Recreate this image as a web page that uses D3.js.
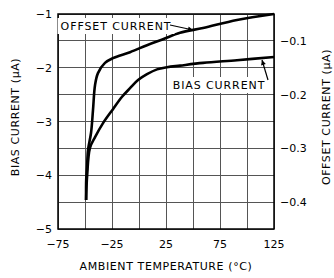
<!DOCTYPE html>
<html><head><meta charset="utf-8">
<script src="https://cdn.jsdelivr.net/npm/d3@7"></script>
<style>body{margin:0;background:#fff}svg{display:block}text{font-family:"DejaVu Sans",sans-serif;fill:#000}</style>
</head><body><svg id="c" width="334" height="278"></svg>
<script>
const xTicks = [-75, -25, 25, 75, 125];
const yLeftTicks = [-5, -4, -3, -2, -1];
const yRightTicks = [-0.4, -0.3, -0.2, -0.1];
// Bias current (left axis, µA) vs temperature (°C)
const biasTemp = [-49, -48, -45.4, -40.7, -33.3, -24.1, -15.7, -8.3, -0.9, 7.4, 16.7, 25.9, 38, 59.3, 90.7, 125];
const biasVal  = [-4.46, -4.0, -3.49, -3.29, -3.03, -2.77, -2.54, -2.38, -2.23, -2.12, -2.03, -1.99, -1.96, -1.91, -1.86, -1.80];
// Offset current (right axis, µA) vs temperature (°C)
const offTemp = [-49, -48.9, -48.1, -47.2, -44.4, -42.6, -40.7, -38.0, -31.5, -24.1, -8.3, 7.4, 22.2, 38.0, 59.3, 90.7, 125];
const offVal  = [-0.396, -0.359, -0.335, -0.303, -0.271, -0.229, -0.182, -0.160, -0.141, -0.132, -0.121, -0.108, -0.097, -0.085, -0.076, -0.061, -0.050];

const svg = d3.select("#c");
const x = d3.scaleLinear().domain([-75, 125]).range([58, 274]);
const yL = d3.scaleLinear().domain([-5, -1]).range([229, 14]);
const yR = d3.scaleLinear().domain([-0.45, -0.05]).range([229, 14]);
const fmt = v => String(v).replace("-", "\u2212");

const g = svg.append("g");
// grid
g.selectAll(".vg").data(d3.range(-75, 126, 25)).join("line")
  .attr("x1", d => x(d)).attr("x2", d => x(d)).attr("y1", 14).attr("y2", 229)
  .attr("stroke", "#555").attr("stroke-width", 1).attr("shape-rendering", "crispEdges");
g.selectAll(".hg").data(d3.range(-5, -0.99, 0.5)).join("line")
  .attr("y1", d => yL(d)).attr("y2", d => yL(d)).attr("x1", 58).attr("x2", 274)
  .attr("stroke", "#555").attr("stroke-width", 1).attr("shape-rendering", "crispEdges");
// frame
g.append("rect").attr("x", 58).attr("y", 14).attr("width", 216).attr("height", 215)
  .attr("fill", "none").attr("stroke", "#000").attr("stroke-width", 1.5);

// curves
const lineB = d3.line().x((d, i) => x(biasTemp[i])).y(d => yL(d)).curve(d3.curveCatmullRom.alpha(0.5));
const lineO = d3.line().x((d, i) => x(offTemp[i])).y(d => yR(d)).curve(d3.curveCatmullRom.alpha(0.5));
g.append("path").attr("d", lineB(biasVal)).attr("fill", "none").attr("stroke", "#000").attr("stroke-width", 2.6).attr("stroke-linejoin", "round");
g.append("path").attr("d", lineO(offVal)).attr("fill", "none").attr("stroke", "#000").attr("stroke-width", 2.6).attr("stroke-linejoin", "round");

// tick labels
svg.selectAll(".xl").data(xTicks).join("text").attr("x", d => x(d)).attr("y", 248)
  .attr("text-anchor", "middle").attr("font-size", 11).text(fmt);
svg.selectAll(".yl").data(yLeftTicks).join("text").attr("x", 52).attr("y", d => yL(d) + 4)
  .attr("text-anchor", "end").attr("font-size", 11).text(fmt);
svg.selectAll(".yr").data(yRightTicks).join("text").attr("x", 280).attr("y", d => yR(d) + 4)
  .attr("text-anchor", "start").attr("font-size", 11).text(fmt);

// axis titles
svg.append("text").attr("x", 166).attr("y", 270).attr("text-anchor", "middle").attr("font-size", 11)
  .attr("letter-spacing", 0.6).text("AMBIENT TEMPERATURE (\u00B0C)");
svg.append("text").attr("transform", "translate(19,117) rotate(-90)").attr("text-anchor", "middle")
  .attr("font-size", 11).attr("letter-spacing", 0.6).text("BIAS CURRENT (\u03BCA)");
svg.append("text").attr("transform", "translate(330,117) rotate(-90)").attr("text-anchor", "middle")
  .attr("font-size", 11).attr("letter-spacing", 0.6).text("OFFSET CURRENT (\u03BCA)");

// annotations
function label(txt, cx, cy) {
  const t = svg.append("text").attr("x", cx).attr("y", cy + 4).attr("text-anchor", "middle")
    .attr("font-size", 11).attr("letter-spacing", 0.9).text(txt);
  const b = t.node().getBBox();
  svg.insert("rect", "text").attr("x", b.x - 3).attr("y", cy - 8).attr("width", b.width + 6).attr("height", 16).attr("fill", "#fff");
}
label("OFFSET CURRENT", 116, 26);
label("BIAS CURRENT", 219, 85);

svg.append("defs").append("marker").attr("id", "ah").attr("viewBox", "0 0 10 10").attr("refX", 10).attr("refY", 5)
  .attr("markerWidth", 7).attr("markerHeight", 5).attr("orient", "auto").attr("markerUnits", "userSpaceOnUse")
  .append("path").attr("d", "M0,0L10,5L0,10z").attr("fill", "#000");
svg.append("line").attr("x1", 170).attr("y1", 25).attr("x2", 193).attr("y2", 30).attr("stroke", "#000").attr("stroke-width", 1.2).attr("marker-end", "url(#ah)");
svg.append("line").attr("x1", 268).attr("y1", 80).attr("x2", 262).attr("y2", 60).attr("stroke", "#000").attr("stroke-width", 1.2).attr("marker-end", "url(#ah)");
</script></body></html>
